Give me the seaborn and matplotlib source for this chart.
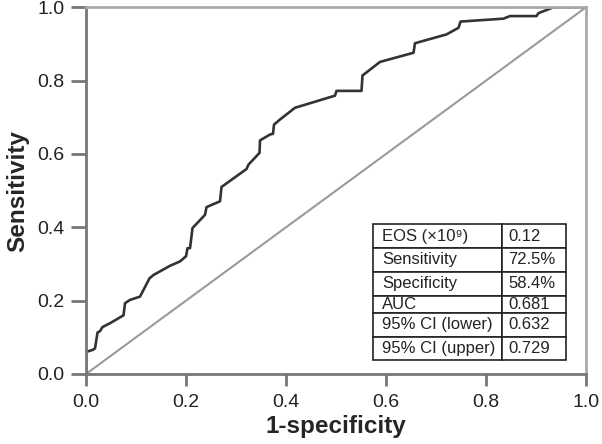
import numpy as np
import pandas as pd
import matplotlib
matplotlib.use('Agg')
import matplotlib.pyplot as plt
import seaborn as sns

sns.set_style('white')
plt.rcParams['font.family'] = ['Liberation Sans', 'DejaVu Sans']

# ROC curve points
fpr = [0.0, 0.0, 0.014, 0.018, 0.023, 0.028, 0.033, 0.05, 0.075, 0.078,
       0.088, 0.108, 0.127, 0.135, 0.168, 0.188, 0.2, 0.203, 0.208, 0.213,
       0.238, 0.241, 0.268, 0.271, 0.321, 0.325, 0.347, 0.348, 0.368, 0.374,
       0.376, 0.388, 0.418, 0.498, 0.501, 0.551, 0.553, 0.588, 0.655, 0.658,
       0.721, 0.745, 0.749, 0.835, 0.848, 0.901, 0.905, 0.935, 1.0]
tpr = [0.0, 0.06, 0.066, 0.07, 0.113, 0.117, 0.128, 0.14, 0.16, 0.193,
       0.202, 0.211, 0.261, 0.27, 0.295, 0.307, 0.321, 0.343, 0.343, 0.398,
       0.434, 0.455, 0.471, 0.51, 0.559, 0.571, 0.603, 0.637, 0.653, 0.655,
       0.68, 0.694, 0.726, 0.759, 0.772, 0.772, 0.814, 0.851, 0.876, 0.902,
       0.926, 0.944, 0.961, 0.969, 0.976, 0.976, 0.984, 1.0, 1.0]
ref_line = [0.0, 1.0]

table_labels = ['EOS (\u00d710\u2079)', 'Sensitivity', 'Specificity', 'AUC',
                '95% CI (lower)', '95% CI (upper)']
table_values = ['0.12', '72.5%', '58.4%', '0.681', '0.632', '0.729']
row_heights = [24, 23.7, 24.3, 17, 23.5, 23.5]

roc = pd.DataFrame({'fpr': fpr, 'tpr': tpr})

fig = plt.figure(figsize=(6.02, 4.44), dpi=100)
ax = fig.add_axes([0.1429, 0.1577, 0.8305, 0.8259])

sns.lineplot(x=ref_line, y=ref_line, ax=ax, color='#9a9a9a', lw=1.5)
sns.lineplot(data=roc, x='fpr', y='tpr', ax=ax, sort=False, estimator=None,
             color='#333333', lw=1.9)

ax.set_xlim(0, 1)
ax.set_ylim(0, 1)
ax.set_xticks(np.arange(0, 1.01, 0.2))
ax.set_yticks(np.arange(0, 1.01, 0.2))
ax.xaxis.set_major_formatter(matplotlib.ticker.FormatStrFormatter('%.1f'))
ax.yaxis.set_major_formatter(matplotlib.ticker.FormatStrFormatter('%.1f'))
ax.tick_params(direction='out', width=2, color='#777777',
               labelsize=14, labelcolor='#222222',
               bottom=True, left=True)
ax.tick_params(axis='x', length=8.6, pad=5.5)
ax.tick_params(axis='y', length=10.8, pad=4.5)
for side in ['left', 'bottom']:
    ax.spines[side].set_color('#777777')
    ax.spines[side].set_linewidth(2)
for side in ['top', 'right']:
    ax.spines[side].set_color('#aaaaaa')
    ax.spines[side].set_linewidth(2)

ax.set_xlabel('1-specificity', fontsize=17.5, fontweight='bold', labelpad=3)
ax.set_ylabel('Sensitivity', fontsize=17.5, fontweight='bold', labelpad=6)

cells = [[a, b] for a, b in zip(table_labels, table_values)]
tbl = ax.table(cellText=cells, cellLoc='left', colWidths=[0.669, 0.331],
               bbox=[0.574, 0.038, 0.387, 0.371])
tbl.auto_set_font_size(False)
tbl.set_fontsize(12)
for (r, c), cell in tbl.get_celld().items():
    cell.set_height(row_heights[r] / 1000)
    cell.set_edgecolor('#222222')
    cell.set_linewidth(1.2)
    cell.PAD = 0.07 if c == 0 else 0.09
    cell.get_text().set_color('#222222')

fig.savefig('out.png', dpi=100)
